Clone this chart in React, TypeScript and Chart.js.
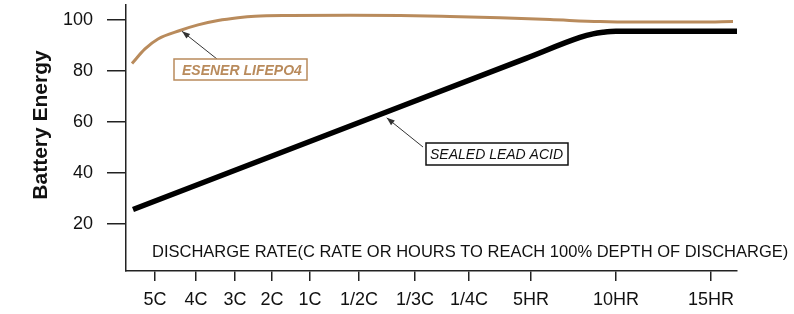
import React, { useEffect, useRef } from 'react';
import { Chart, registerables } from 'chart.js';

Chart.register(...registerables);

const FONT = '"Liberation Sans", Arial, Helvetica, sans-serif';
const TAN = '#B98B5C';

// x-axis: discharge rate tick labels and their positions on the (arbitrary) rate axis
const xTickLabels = ['5C', '4C', '3C', '2C', '1C', '1/2C', '1/3C', '1/4C', '5HR', '10HR', '15HR'];
const xTickValues = [29, 70, 109, 146, 184, 233, 289, 343, 405, 490, 585];
const yTickValues = [20, 40, 60, 80, 100];

// ESENER LiFePO4 curve
const lifepoX = [6, 19, 32, 54, 72, 92, 112, 129, 164, 224, 274, 324, 374, 424, 474, 507, 574, 607];
const lifepoY = [82.8, 88.5, 92.4, 95.7, 97.9, 99.6, 100.7, 101.3, 101.6, 101.7, 101.6, 101.2, 100.7, 100.0, 99.2, 99.0, 99.0, 99.2];

// Sealed lead acid curve
const leadX = [7, 200, 400, 454, 467, 477, 490, 611];
const leadY = [25.6, 54.7, 84.8, 93.0, 94.4, 95.0, 95.4, 95.4];

const annotPlugin = {
  id: 'annot',
  afterDraw(chart: any) {
    const { ctx, scales } = chart;
    const x = scales.x;
    const y = scales.y;
    ctx.save();

    // y-axis title
    ctx.save();
    ctx.translate(47, 125);
    ctx.rotate(-Math.PI / 2);
    ctx.font = `bold 21px ${FONT}`;
    ctx.textAlign = 'center';
    ctx.textBaseline = 'alphabetic';
    ctx.fillStyle = '#111';
    ctx.fillText('Battery Energy', 0, 0);
    ctx.restore();

    // x-axis title (inside the plot)
    ctx.font = `16.5px ${FONT}`;
    ctx.textAlign = 'left';
    ctx.textBaseline = 'alphabetic';
    ctx.fillStyle = '#111';
    ctx.fillText('DISCHARGE RATE(C RATE OR HOURS TO REACH 100% DEPTH OF DISCHARGE)', 152, 256.5);

    const arrow = (x0: number, y0: number, x1: number, y1: number) => {
      ctx.strokeStyle = '#333';
      ctx.fillStyle = '#333';
      ctx.lineWidth = 1;
      ctx.beginPath();
      ctx.moveTo(x0, y0);
      ctx.lineTo(x1, y1);
      ctx.stroke();
      const a = Math.atan2(y1 - y0, x1 - x0);
      const L = 8, W = 3;
      ctx.beginPath();
      ctx.moveTo(x1, y1);
      ctx.lineTo(x1 - L * Math.cos(a) + W * Math.sin(a), y1 - L * Math.sin(a) - W * Math.cos(a));
      ctx.lineTo(x1 - L * Math.cos(a) - W * Math.sin(a), y1 - L * Math.sin(a) + W * Math.cos(a));
      ctx.closePath();
      ctx.fill();
    };

    // LiFePO4 label
    arrow(217, 59, x.getPixelForValue(56), y.getPixelForValue(95.4));
    ctx.fillStyle = '#fff';
    ctx.fillRect(174, 59, 133, 21);
    ctx.strokeStyle = TAN;
    ctx.lineWidth = 1.5;
    ctx.strokeRect(174, 59, 133, 21);
    ctx.font = `italic bold 14px ${FONT}`;
    ctx.fillStyle = TAN;
    ctx.fillText('ESENER LIFEPO4', 182, 74.5);

    // Lead acid label
    arrow(423, 147, x.getPixelForValue(260.7), y.getPixelForValue(61.5));
    ctx.fillStyle = '#fff';
    ctx.fillRect(426, 143, 142, 22);
    ctx.strokeStyle = '#111';
    ctx.lineWidth = 1.5;
    ctx.strokeRect(426, 143, 142, 22);
    ctx.font = `italic 14px ${FONT}`;
    ctx.fillStyle = '#111';
    ctx.fillText('SEALED LEAD ACID', 430, 159);

    ctx.restore();
  },
};

export default function App() {
  const ref = useRef<HTMLCanvasElement | null>(null);

  useEffect(() => {
    if (!ref.current) return;
    Chart.defaults.font.family = FONT;
    const chart = new Chart(ref.current, {
      type: 'line',
      data: {
        datasets: [
          {
            label: 'ESENER LIFEPO4',
            data: lifepoX.map((v, i) => ({ x: v, y: lifepoY[i] })),
            borderColor: TAN,
            borderWidth: 3,
            pointRadius: 0,
            fill: false,
            cubicInterpolationMode: 'monotone',
          },
          {
            label: 'SEALED LEAD ACID',
            data: leadX.map((v, i) => ({ x: v, y: leadY[i] })),
            borderColor: '#000',
            borderWidth: 5.5,
            pointRadius: 0,
            fill: false,
            cubicInterpolationMode: 'monotone',
          },
        ],
      },
      options: {
        responsive: false,
        animation: false,
        devicePixelRatio: 1,
        layout: { padding: { top: 5, right: 57, bottom: 0, left: 0 } },
        plugins: { legend: { display: false }, tooltip: { enabled: false } },
        scales: {
          x: {
            type: 'linear',
            position: 'bottom',
            min: 0,
            max: 611,
            grid: { drawOnChartArea: false, drawTicks: true, tickLength: 10, color: '#222', lineWidth: 1.5 },
            border: { display: true, color: '#222', width: 1.5 },
            ticks: {
              autoSkip: false,
              maxRotation: 0,
              padding: 8,
              color: '#111',
              font: { family: FONT, size: 18 },
              callback: (_v: any, i: number) => xTickLabels[i],
            },
            afterBuildTicks: (s: any) => {
              s.ticks = xTickValues.map((v) => ({ value: v }));
            },
            afterFit: (s: any) => {
              s.height = 43;
              s.paddingLeft = 0;
              s.paddingRight = 0;
            },
          },
          y: {
            type: 'linear',
            min: 1.5,
            max: 105.7,
            grid: { drawOnChartArea: false, drawTicks: true, tickLength: 19, color: '#222', lineWidth: 1.5 },
            border: { display: true, color: '#222', width: 1.5 },
            ticks: {
              padding: 14,
              color: '#111',
              font: { family: FONT, size: 18 },
              callback: (v: any) => String(v),
            },
            afterBuildTicks: (s: any) => {
              s.ticks = yTickValues.map((v) => ({ value: v }));
            },
            afterFit: (s: any) => {
              s.width = 126;
              s.paddingTop = 0;
              s.paddingBottom = 0;
            },
          },
        },
      } as any,
      plugins: [annotPlugin],
    });
    return () => chart.destroy();
  }, []);

  return (
    <div style={{ position: 'absolute', left: 0, top: 0, width: 794, height: 314, background: '#fff' }}>
      <canvas ref={ref} width={794} height={314} style={{ display: 'block', width: 794, height: 314 }} />
    </div>
  );
}
